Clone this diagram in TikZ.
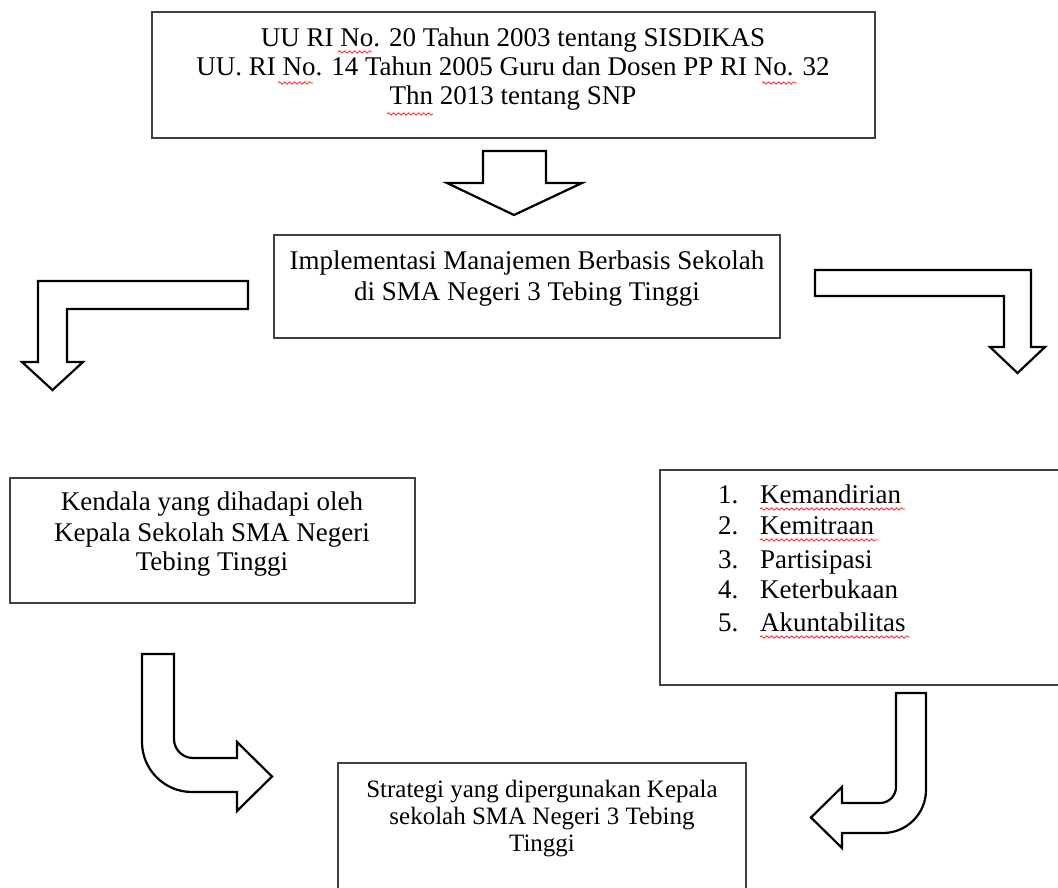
\documentclass[tikz,border=0pt]{standalone}
\usepackage{fontspec}
\setmainfont{Liberation Serif}
\usetikzlibrary{decorations.pathmorphing}
\tikzset{
  box/.style={draw=black!75, line width=1.6pt, fill=white, inner sep=0pt},
  blockarrow/.style={draw=black, line width=2.2pt, fill=white, line join=miter},
  txtline/.style={anchor=base, inner sep=0pt, font=\fontsize{27}{29}\selectfont},
  txtsmall/.style={anchor=base, inner sep=0pt, font=\fontsize{25}{27}\selectfont},
  txtleft/.style={anchor=base west, inner sep=0pt, font=\fontsize{27}{29}\selectfont},
  spell/.style={draw=red!85, line width=0.8pt, decorate,
    decoration={snake, amplitude=1.2pt, segment length=5pt}},
}
\begin{document}
\begin{tikzpicture}[x=1pt,y=-1pt]
\useasboundingbox (0,0) rectangle (1058,887);

% boxes
\node[box, minimum width=723pt, minimum height=126pt] (topbox) at (513.5,75) {};
\node[box, minimum width=506pt, minimum height=103pt] (midbox) at (527,286.5) {};
\node[box, minimum width=405pt, minimum height=125pt] (leftbox) at (212.5,540.5) {};
\node[box, minimum width=404pt, minimum height=215pt] (rightbox) at (862,577.5) {};
\node[box, minimum width=408pt, minimum height=140pt] (botbox) at (542,833) {};

% top box text
\node[txtline] (t1) at (513,46) {UU RI No. 20 Tahun 2003 tentang SISDIKAS};
\node[txtline] (t2) at (513,75) {UU. RI No. 14 Tahun 2005 Guru dan Dosen PP RI No. 32};
\node[txtline] (t3) at (513,104) {Thn 2013 tentang SNP};

% middle box text
\node[txtline] (m1) at (527,269) {Implementasi Manajemen Berbasis Sekolah};
\node[txtline] (m2) at (527,300) {di SMA Negeri 3 Tebing Tinggi};

% left box text
\node[txtline] (l1) at (212,510) {Kendala yang dihadapi oleh};
\node[txtline] (l2) at (212,541) {Kepala Sekolah SMA Negeri};
\node[txtline] (l3) at (212,570) {Tebing Tinggi};

% right box list
\node[txtleft] (n1) at (718,503) {1.};
\node[txtleft] (n2) at (718,534) {2.};
\node[txtleft] (n3) at (718,568) {3.};
\node[txtleft] (n4) at (718,598) {4.};
\node[txtleft] (n5) at (718,631) {5.};
\node[txtleft] (r1) at (760,503) {Kemandirian};
\node[txtleft] (r2) at (760,534) {Kemitraan};
\node[txtleft] (r3) at (760,568) {Partisipasi};
\node[txtleft] (r4) at (760,598) {Keterbukaan};
\node[txtleft] (r5) at (760,631) {Akuntabilitas};

% bottom box text
\node[txtsmall] (b1) at (542,797) {Strategi yang dipergunakan Kepala};
\node[txtsmall] (b2) at (542,824) {sekolah SMA Negeri 3 Tebing};
\node[txtsmall] (b3) at (542,851) {Tinggi};

% spell-check underlines
\draw[spell] (338,52) -- (372,52);
\draw[spell] (278,83) -- (313,83);
\draw[spell] (762,83) -- (797,83);
\draw[spell] (387,114) -- (433,114);
\draw[spell] (760,509) -- (905,509);
\draw[spell] (760,540) -- (878,540);
\draw[spell] (760,637) -- (910,637);

% block arrow: top box -> middle box
\draw[blockarrow] (483,151) -- (546,151) -- (546,183) -- (582,183) -- (514,215)
  -- (447,183) -- (483,183) -- cycle;

% L arrow to the left
\draw[blockarrow] (38,281) -- (248,281) -- (248,309) -- (67,309) -- (67,362)
  -- (83,362) -- (52.5,390) -- (22,362) -- (38,362) -- cycle;

% L arrow to the right
\draw[blockarrow] (815,270) -- (1031,270) -- (1031,347) -- (1045,347) -- (1017.5,373)
  -- (990,347) -- (1004,347) -- (1004,296) -- (815,296) -- cycle;

% curved arrow bottom left
\draw[blockarrow] (142,654) -- (174,654) -- (174,739)
  .. controls (174,749.5) and (182.5,758) .. (193,758)
  -- (237,758) -- (237,742) -- (272,776.5) -- (237,811) -- (237,792) -- (192,792)
  .. controls (164.4,792) and (142,769.6) .. (142,742) -- cycle;

% curved arrow bottom right
\draw[blockarrow] (896,693) -- (926,693) -- (926,790)
  .. controls (926,813.7) and (906.7,833) .. (883,833)
  -- (842,833) -- (842,848) -- (811,817.5) -- (842,787) -- (842,803) -- (880,803)
  .. controls (888.8,803) and (896,795.8) .. (896,787) -- cycle;
\end{tikzpicture}
\end{document}
